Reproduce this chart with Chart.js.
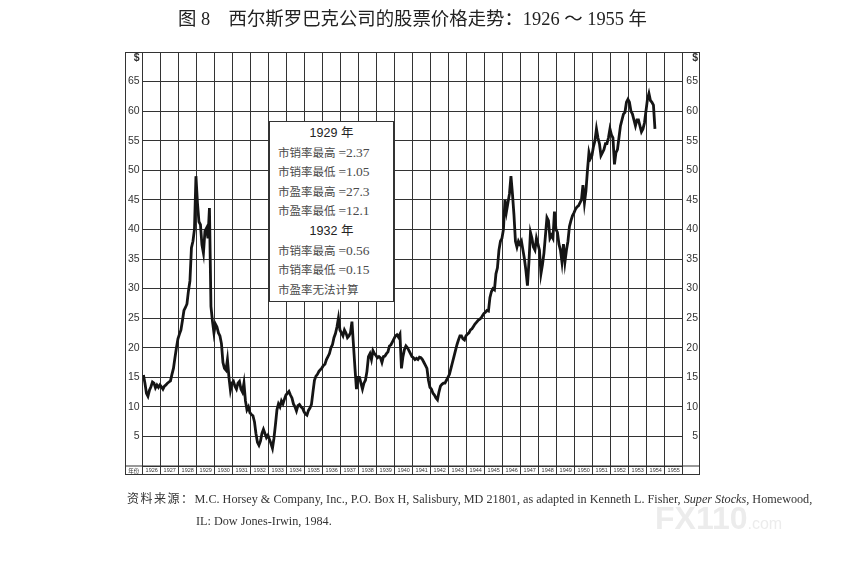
<!DOCTYPE html>
<html lang="zh">
<head>
<meta charset="UTF-8">
<title>西尔斯罗巴克公司的股票价格走势：1926 ～ 1955 年</title>
<script src="https://cdn.jsdelivr.net/npm/chart.js"></script>
<style>
    html, body { margin: 0; padding: 0; background: #fff; }
    #wrap { position: relative; width: 843px; height: 576px; overflow: hidden; }
    #chart { position: absolute; left: 0; top: 0; }

    .titulo {
        position: absolute; left: 178px; top: 4px;
        font-family: "Liberation Serif", "Noto Sans CJK SC", serif;
        font-size: 18.4px; color: #222; white-space: nowrap;
    }
    .nota {
        position: absolute; left: 269px; top: 121px; width: 125px; height: 181px;
        box-sizing: border-box; border: 1px solid #333; background: #fff;
        padding-top: 2px;
        font-family: "Liberation Serif", "Noto Sans CJK SC", serif;
        font-size: 11.5px; color: #4a4a4a;
    }
    .nota div { height: 19.6px; line-height: 19.6px; padding-left: 8px; white-space: nowrap; overflow: visible; }
    .nota .v { font-size: 13.5px; line-height: 0; }
    .nota .anio {
        padding-left: 0; text-align: center; color: #222;
        font-family: "Liberation Sans", "Noto Sans CJK SC", sans-serif; font-size: 12.5px;
    }
    .fuente {
        position: absolute; left: 127px; top: 487px;
        font-family: "Liberation Serif", serif; font-size: 12.2px; color: #333;
        line-height: 22px; white-space: nowrap;
    }
    .fuente .cjk { font-family: "Noto Sans CJK SC", sans-serif; font-size: 12px; letter-spacing: 1.5px; }
    .fuente .l2 { padding-left: 69px; }
    .marca {
        position: absolute; left: 655px; top: 500px;
        font-family: "Liberation Sans", sans-serif; font-weight: bold; font-size: 32px;
        color: #ececec; white-space: nowrap;
    }
    .marca span { font-size: 16px; font-weight: normal; }
</style>
</head>
<body>
<div id="wrap">
    <canvas id="chart" width="843" height="576"></canvas>

    <div class="titulo">图 8　西尔斯罗巴克公司的股票价格走势：1926 ～ 1955 年</div>

    <div class="nota">
        <div class="anio">1929 年</div>
        <div>市销率最高 <span class="v">=2.37</span></div>
        <div>市销率最低 <span class="v">=1.05</span></div>
        <div>市盈率最高 <span class="v">=27.3</span></div>
        <div>市盈率最低 <span class="v">=12.1</span></div>
        <div class="anio">1932 年</div>
        <div>市销率最高 <span class="v">=0.56</span></div>
        <div>市销率最低 <span class="v">=0.15</span></div>
        <div>市盈率无法计算</div>
    </div>

    <div class="fuente">
        <div><span class="cjk">资料来源：</span>M.C. Horsey &amp; Company, Inc., P.O. Box H, Salisbury, MD 21801, as adapted in Kenneth L. Fisher, <i>Super Stocks</i>, Homewood,</div>
        <div class="l2">IL: Dow Jones-Irwin, 1984.</div>
    </div>

    <div class="marca">FX110<span>.com</span></div>
</div>

<script>
// Precio mensual (USD), enero 1926 - junio 1954
const firstYear = 1926;
const precios1926_1930 = [
    15.4, 14.0, 12.3, 11.8, 12.8, 13.4, 14.2, 14.0, 13.2, 13.7, 13.3, 13.7,
    13.4, 13.0, 13.5, 13.7, 14.0, 14.2, 14.4, 15.5, 16.5, 18.3, 20.0, 21.5,
    22.3, 23.0, 24.6, 26.3, 26.8, 27.4, 29.6, 31.3, 36.9, 38.0, 40.0, 49.0,
    44.5, 41.3, 40.8, 37.4, 36.0, 39.7, 40.2, 38.5, 43.6, 27.0, 24.5, 22.5,
    24.0, 23.5, 22.5, 22.0, 20.7, 17.5, 16.5, 16.2, 18.0, 15.0, 12.8, 14.0
];
const precios1931_1935 = [
    14.3, 13.5, 13.0, 14.0, 14.3, 13.0, 12.5, 14.0, 11.0, 9.5, 10.0, 9.0,
    8.7, 8.5, 7.5, 5.5, 4.0, 3.5, 4.2, 5.5, 6.2, 5.5, 4.8, 5.2,
    4.5, 3.8, 3.0, 4.7, 7.0, 9.5, 10.5, 10.0, 11.0, 10.5, 11.3, 12.0,
    12.3, 12.6, 12.0, 11.5, 10.5, 10.0, 9.3, 10.2, 10.4, 10.0, 9.8, 9.2,
    8.8, 8.6, 9.4, 9.8, 10.4, 12.5, 14.5, 15.2, 15.5, 16.0, 16.3, 16.6
];
const precios1936_1940 = [
    17.0, 17.2, 18.0, 18.5, 19.0, 20.0, 20.5, 21.7, 22.4, 23.5, 25.0, 23.0,
    22.5, 22.0, 23.0, 22.5, 21.7, 22.0, 22.5, 24.4, 20.5, 16.6, 13.0, 15.0,
    15.0, 14.0, 13.0, 14.0, 14.5, 16.0, 18.5, 19.0, 18.0, 19.5, 19.0, 18.7,
    18.3, 18.5, 18.3, 17.5, 18.5, 18.6, 19.0, 19.3, 20.3, 20.5, 21.0, 21.5,
    22.0, 22.2, 21.8, 22.3, 16.5, 18.5, 19.7, 20.3, 20.0, 19.5, 19.0, 18.5
];
const precios1941_1945 = [
    18.3, 18.0, 18.2, 18.0, 18.4, 18.3, 18.0, 17.5, 17.0, 16.5, 14.5, 13.3,
    13.0, 12.3, 12.0, 11.5, 11.2, 12.5, 13.5, 13.8, 14.0, 14.0, 14.5, 15.0,
    15.5, 16.5, 17.5, 18.5, 19.5, 20.5, 21.3, 22.0, 22.0, 21.5, 21.3, 22.0,
    22.3, 22.5, 23.0, 23.2, 23.6, 24.0, 24.3, 24.6, 24.8, 25.0, 25.4, 25.8,
    26.0, 26.3, 26.2, 28.5, 29.5, 30.0, 29.8, 32.5, 33.5, 36.5, 38.0, 38.5
];
const precios1946_1950 = [
    40.0, 45.0, 43.0, 44.5, 46.0, 49.0, 46.0, 42.5, 38.0, 37.0, 38.0, 37.5,
    38.0, 36.5, 35.0, 33.0, 30.5, 34.5, 39.5, 38.5, 37.0, 36.5, 38.5, 37.5,
    36.5, 32.5, 34.0, 36.0, 39.0, 42.0, 41.5, 38.5, 39.0, 38.5, 43.0, 40.0,
    39.5, 37.5, 36.5, 34.5, 37.5, 34.5, 36.5, 38.0, 40.5, 41.5, 42.3, 42.8,
    43.4, 43.8, 44.0, 44.5, 45.0, 47.5, 44.5, 46.5, 50.0, 53.0, 52.0, 52.5
];
const precios1951_1954 = [
    54.0, 55.0, 57.0, 55.5, 54.5, 52.5, 53.0, 53.5, 54.5, 54.5, 55.5, 57.0,
    56.0, 55.5, 51.0, 53.0, 53.5, 55.5, 57.5, 58.5, 59.5, 59.8, 61.5, 62.0,
    61.5, 60.0, 59.5, 58.5, 57.5, 58.5, 58.5, 57.5, 56.5, 57.0, 58.0, 60.0,
    62.0, 63.0, 61.8, 61.5, 61.0, 57.0
];

// Etiquetas de ejes
const etiquetasAnio = ['1926','1927','1928','1929','1930','1931','1932','1933','1934','1935',
                       '1936','1937','1938','1939','1940','1941','1942','1943','1944','1945',
                       '1946','1947','1948','1949','1950','1951','1952','1953','1954','1955'];
const ticksPrecio = [5, 10, 15, 20, 25, 30, 35, 40, 45, 50, 55, 60, 65];
const DOLAR = 69;      // altura del símbolo $ en la columna de etiquetas
const MARGEN_DER = 2;  // hueco entre las etiquetas derechas y el marco

const precios = [].concat(precios1926_1930, precios1931_1935, precios1936_1940,
                          precios1941_1945, precios1946_1950, precios1951_1954);
const puntos = precios.map((p, i) => ({ x: firstYear + i / 12 + 1 / 24, y: p }));

const LINEA = '#333333';

// Marco exterior, fila de años y celda "年份"
const marco = {
    id: 'marco',
    afterDraw(chart) {
        const { ctx, chartArea, scales } = chart;
        const izq = scales.y.left, der = scales.y2.right + MARGEN_DER;
        const arriba = chartArea.top, abajo = scales.x.bottom;
        ctx.save();
        ctx.strokeStyle = LINEA;
        ctx.lineWidth = 1;
        ctx.strokeRect(izq + 0.5, arriba + 0.5, der - izq - 1, abajo - arriba - 1);
        ctx.beginPath();
        ctx.moveTo(izq, chartArea.bottom);
        ctx.lineTo(der, chartArea.bottom);
        ctx.stroke();
        ctx.fillStyle = LINEA;
        ctx.font = '5.5px "Noto Sans CJK SC"';
        ctx.textAlign = 'center';
        ctx.textBaseline = 'middle';
        ctx.fillText('年份', (izq + chartArea.left) / 2, (chartArea.bottom + abajo) / 2);
        ctx.restore();
    }
};

function ejePrecio(pos) {
    return {
        type: 'linear', position: pos, min: 0, max: 70,
        afterBuildTicks: s => { s.ticks = ticksPrecio.map(v => ({ value: v })).concat([{ value: DOLAR }]); },
        ticks: {
            callback: v => v === DOLAR ? '$' : String(v),
            font: c => ({ family: 'Liberation Sans', size: 10.5,
                          weight: (c.tick && c.tick.value === DOLAR) ? 'bold' : 'normal' }),
            color: LINEA,
            padding: 3,
            crossAlign: pos === 'left' ? 'near' : 'far'
        },
        grid: {
            display: pos === 'left',
            drawTicks: false,
            color: c => (c.tick && c.tick.value === DOLAR) ? 'rgba(0,0,0,0)' : LINEA,
            lineWidth: 1
        },
        border: { display: true, color: LINEA },
        afterFit: s => { s.width = pos === 'left' ? 17.7 : 17.3 - MARGEN_DER; }
    };
}

new Chart(document.getElementById('chart'), {
    type: 'line',
    data: {
        datasets: [{
            data: puntos,
            borderColor: '#151515',
            borderWidth: 2.8,
            pointRadius: 0,
            tension: 0,
            fill: false,
            yAxisID: 'y'
        }]
    },
    options: {
        responsive: false,
        animation: false,
        layout: { padding: { left: 125, right: 143 + MARGEN_DER, top: 52, bottom: 101 } },
        plugins: { legend: { display: false }, tooltip: { enabled: false } },
        scales: {
            x: {
                type: 'linear', min: 1926, max: 1956,
                ticks: {
                    stepSize: 1, autoSkip: false, maxRotation: 0, minRotation: 0,
                    labelOffset: 9, padding: -8,
                    callback: (v, i) => etiquetasAnio[i] || '',
                    font: { family: 'Liberation Sans', size: 5.5 },
                    color: LINEA
                },
                grid: { color: LINEA, lineWidth: 1, drawTicks: true, tickLength: 9, tickColor: LINEA },
                border: { display: true, color: LINEA },
                afterFit: s => { s.height = 9; }
            },
            y: ejePrecio('left'),
            y2: ejePrecio('right')
        }
    },
    plugins: [marco]
});
</script>
</body>
</html>
